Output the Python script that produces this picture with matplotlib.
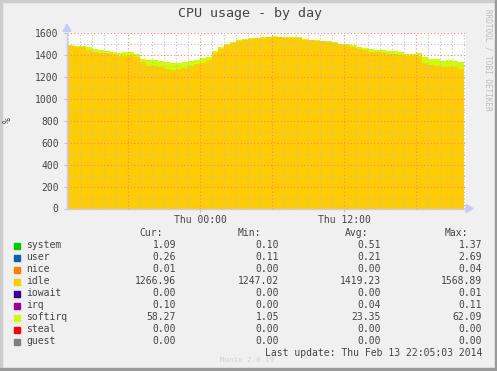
import numpy as np
import matplotlib
matplotlib.use('Agg')
import matplotlib.pyplot as plt
from matplotlib.patches import Rectangle

# Values, one sample every 30 min, first at Wed 13:00 (hours from Thu 00:00)
start_hour = -11.0
step_hour = 0.5
idle = [1480, 1475, 1470, 1450, 1430, 1420, 1415, 1410, 1395, 1390,
        1400, 1385, 1340, 1300, 1305, 1290, 1275, 1265, 1270, 1285,
        1300, 1315, 1330, 1360, 1420, 1460, 1495, 1510, 1530, 1540,
        1550, 1555, 1560, 1562, 1568, 1565, 1560, 1558, 1555, 1540,
        1535, 1530, 1525, 1520, 1510, 1490, 1488, 1470, 1455, 1445,
        1430, 1425, 1420, 1410, 1408, 1400, 1392, 1388, 1392, 1330,
        1310, 1300, 1290, 1295, 1290, 1275, 1267]
softirq = [15, 12, 15, 20, 22, 25, 22, 20, 28, 35,
           25, 25, 25, 55, 50, 55, 62, 65, 60, 55,
           50, 45, 40, 25, 20, 10, 8, 8, 6, 5,
           5, 5, 4, 4, 3, 4, 5, 5, 6, 8,
           6, 7, 8, 6, 10, 12, 12, 18, 15, 20,
           22, 23, 25, 30, 28, 25, 22, 25, 30, 50,
           58, 62, 60, 62, 58, 60, 58]
system_avg = 0.51
user_avg = 0.21

names = ['system', 'user', 'nice', 'idle', 'iowait', 'irq', 'softirq', 'steal', 'guest']
colors = ['#00CC00', '#0066B3', '#FF8000', '#FFCC00', '#330099', '#990099', '#CCFF00', '#FF0000', '#808080']
cur = ['1.09', '0.26', '0.01', '1266.96', '0.00', '0.10', '58.27', '0.00', '0.00']
mins = ['0.10', '0.11', '0.00', '1247.02', '0.00', '0.00', '1.05', '0.00', '0.00']
avgs = ['0.51', '0.21', '0.00', '1419.23', '0.00', '0.04', '23.35', '0.00', '0.00']
maxs = ['1.37', '2.69', '0.04', '1568.89', '0.01', '0.11', '62.09', '0.00', '0.00']

W, H = 497, 371
mono = 'DejaVu Sans Mono'
txt = '#444444'

fig = plt.figure(figsize=(W / 100, H / 100), dpi=100)
fig.patch.set_facecolor('#F0F0F0')

def fx(px):
    return px / W

def fy(py):
    return 1 - py / H

# plot area in pixels
left, right, top, bottom = 67, 466, 33.3, 208.5
ax = fig.add_axes([fx(left), fy(bottom), fx(right - left), (bottom - top) / H])
ax.set_facecolor('white')

t = start_hour + step_hour * np.arange(len(idle))
idle = np.array(idle, dtype=float)
softirq = np.array(softirq, dtype=float)
base = np.full(len(idle), system_avg + user_avg)

# system/user are far below one pixel, so only the stack offset is kept
ax.fill_between(t, 0, base + idle, step='post', color=colors[3], lw=0, zorder=1)
ax.fill_between(t, base + idle, base + idle + softirq, step='post', color=colors[6], lw=0, zorder=1)

x0, x1 = -11.08, 22.17
ax.set_xlim(x0, x1)
ax.set_ylim(0, 1600)

# grid: minor gray, major red, drawn over the data
for h in np.arange(-11, 23, 1):
    major = (h % 6 == 0)
    ax.axvline(h, color='#FF8080' if major else '#C0C0C0', lw=0.8,
               ls=(0, (1, 2)), zorder=3)
for v in np.arange(100, 1700, 100):
    major = (v % 200 == 0)
    ax.axhline(v, color='#FF8080' if major else '#C0C0C0', lw=0.8,
               ls=(0, (1, 2)), zorder=3)

for s in ['top', 'right']:
    ax.spines[s].set_visible(False)
for s in ['left', 'bottom']:
    ax.spines[s].set_color('#C8C8FF')
    ax.spines[s].set_linewidth(1)
    ax.spines[s].set_zorder(4)

ax.set_yticks(np.arange(0, 1700, 200))
ax.set_yticklabels([str(v) for v in range(0, 1700, 200)])
ax.set_xticks([0, 12])
ax.set_xticklabels(['Thu 00:00', 'Thu 12:00'])
ax.tick_params(axis='both', length=2, color='#C0C0C0', labelcolor=txt, labelsize=7)
ax.tick_params(axis='x', pad=3)
ax.tick_params(axis='y', pad=4)
for lab in ax.get_xticklabels() + ax.get_yticklabels():
    lab.set_family(mono)

# axis arrows
fig.patches.append(plt.Polygon([[fx(right), fy(bottom - 4)], [fx(right), fy(bottom + 4)], [fx(right + 7), fy(bottom)]],
                               closed=True, color='#C8C8FF', transform=fig.transFigure))
fig.patches.append(plt.Polygon([[fx(left - 4), fy(top - 2)], [fx(left + 4), fy(top - 2)], [fx(left), fy(top - 9)]],
                               closed=True, color='#C8C8FF', transform=fig.transFigure))

fig.text(fx(250), fy(14), 'CPU usage - by day', ha='center', va='center',
         family=mono, fontsize=9.6, color=txt)
fig.text(fx(8), fy(120), '%', ha='center', va='center', rotation=90,
         family=mono, fontsize=7, color=txt)
fig.text(fx(488), fy(60), 'RRDTOOL / TOBI OETIKER', ha='center', va='center', rotation=270,
         family=mono, fontsize=5.5, color='#BBBBBB')

# legend table
col_right = [176, 279, 381, 482]
head_right = [163, 261, 368, 468]
for xr, head in zip(head_right, ['Cur:', 'Min:', 'Avg:', 'Max:']):
    fig.text(fx(xr), fy(233.5), head, ha='right', va='center', family=mono, fontsize=7, color=txt)

for i, name in enumerate(names):
    y = 245.5 + 12 * i
    fig.patches.append(Rectangle((fx(14), fy(y + 3)), fx(6), 6 / H, color=colors[i],
                                 transform=fig.transFigure))
    fig.text(fx(26.5), fy(y), name, ha='left', va='center', family=mono, fontsize=7, color=txt)
    for xr, vals in zip(col_right, [cur, mins, avgs, maxs]):
        fig.text(fx(xr), fy(y), vals[i], ha='right', va='center', family=mono, fontsize=7, color=txt)

fig.text(fx(482), fy(352.5), 'Last update: Thu Feb 13 22:05:03 2014', ha='right', va='center',
         family=mono, fontsize=7, color=txt)
fig.text(fx(247), fy(359.5), 'Munin 2.0.19', ha='center', va='center',
         family=mono, fontsize=5.3, color='#D0D0D0')

# frame: light top/left, dark bottom/right
fig.patches.append(Rectangle((0, 0), fx(2), 1, color='#CCCCCC', transform=fig.transFigure))
fig.patches.append(Rectangle((0, fy(2)), 1, 2 / H, color='#CCCCCC', transform=fig.transFigure))
fig.patches.append(Rectangle((fx(W - 2), 0), fx(2), 1, color='#999999', transform=fig.transFigure))
fig.patches.append(Rectangle((0, 0), 1, 3 / H, color='#999999', transform=fig.transFigure))

fig.savefig('out.png', dpi=100, facecolor=fig.get_facecolor())
